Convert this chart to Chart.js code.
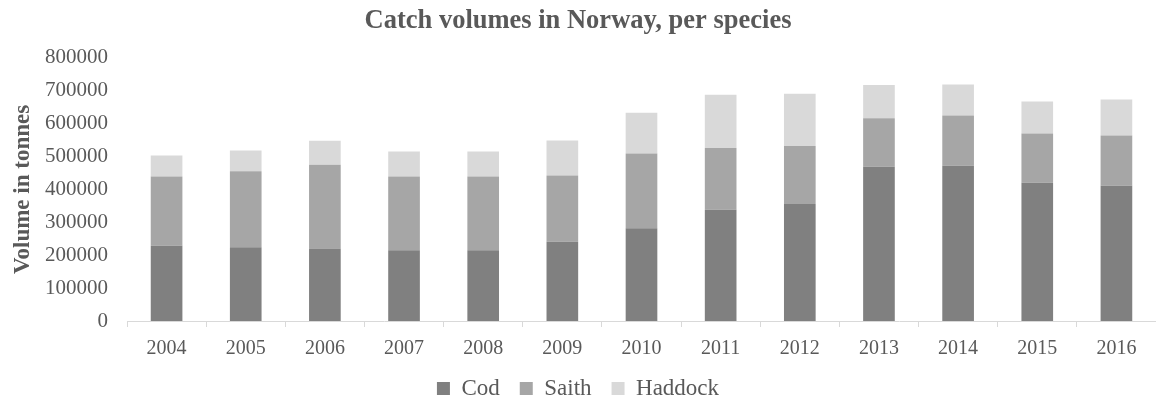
<!DOCTYPE html>
<html>
<head>
<meta charset="utf-8">
<title>Catch volumes in Norway</title>
<script src="https://cdn.jsdelivr.net/npm/chart.js@4/dist/chart.umd.min.js"></script>
<style>
  html, body { margin: 0; padding: 0; background: #fff; }
  #wrap { width: 1156px; height: 401px; }
</style>
</head>
<body>
<div id="wrap"><canvas id="chart" width="1156" height="401"></canvas></div>
<script>
// catch per year, tonnes
const years = ['2004', '2005', '2006', '2007', '2008', '2009', '2010', '2011', '2012', '2013', '2014', '2015', '2016'];
const cod = [229000, 224000, 220000, 215000, 215000, 241000, 282000, 338000, 356000, 469000, 472000, 420000, 411000];
const saith = [210000, 231000, 255000, 224000, 224000, 201000, 227000, 188000, 176000, 147000, 153000, 150000, 153000];
const haddock = [64000, 63000, 73000, 76000, 76000, 107000, 124000, 162000, 159000, 101000, 94000, 97000, 109000];

const serif = '"Liberation Serif", "Times New Roman", serif';
const grey = '#595959';

const ctx = document.getElementById('chart').getContext('2d');
new Chart(ctx, {
  type: 'bar',
  data: {
    labels: years,
    datasets: [
      { label: 'Cod', data: cod, backgroundColor: '#808080' },
      { label: 'Saith', data: saith, backgroundColor: '#a6a6a6' },
      { label: 'Haddock', data: haddock, backgroundColor: '#d9d9d9' },
    ],
  },
  options: {
    responsive: false,
    animation: false,
    // negative bottom padding lets the legend's padding hang off the edge
    layout: { padding: { top: 5, right: 0, bottom: -9, left: 0 } },
    datasets: { bar: { categoryPercentage: 1, barPercentage: 0.4 } },
    plugins: {
      title: {
        display: true,
        text: 'Catch volumes in Norway, per species',
        color: grey,
        font: { family: serif, size: 26.5, weight: 'bold' },
        padding: { top: 0, bottom: 21 },
      },
      legend: {
        position: 'bottom',
        labels: {
          color: grey,
          font: { family: serif, size: 23 },
          boxWidth: 13,
          boxHeight: 13,
          padding: 20,
        },
      },
      tooltip: { enabled: false },
    },
    scales: {
      x: {
        stacked: true,
        grid: { drawOnChartArea: false, color: '#d9d9d9', tickLength: 6 },
        border: { color: '#d9d9d9' },
        ticks: { color: grey, font: { family: serif, size: 20 }, padding: 10 },
        afterFit: s => { s.height = 36; },
      },
      y: {
        stacked: true,
        min: 0,
        max: 800000,
        grid: { display: false, drawTicks: false },
        border: { display: false },
        ticks: {
          stepSize: 100000,
          color: grey,
          font: { family: serif, size: 21 },
          padding: 19,
          callback: v => String(v),
        },
        title: {
          display: true,
          text: 'Volume in tonnes',
          color: grey,
          font: { family: serif, size: 23, weight: 'bold' },
          padding: { top: 9, bottom: 0 },
        },
        afterFit: s => { s.width = 127; },
      },
    },
  },
});
</script>
</body>
</html>
